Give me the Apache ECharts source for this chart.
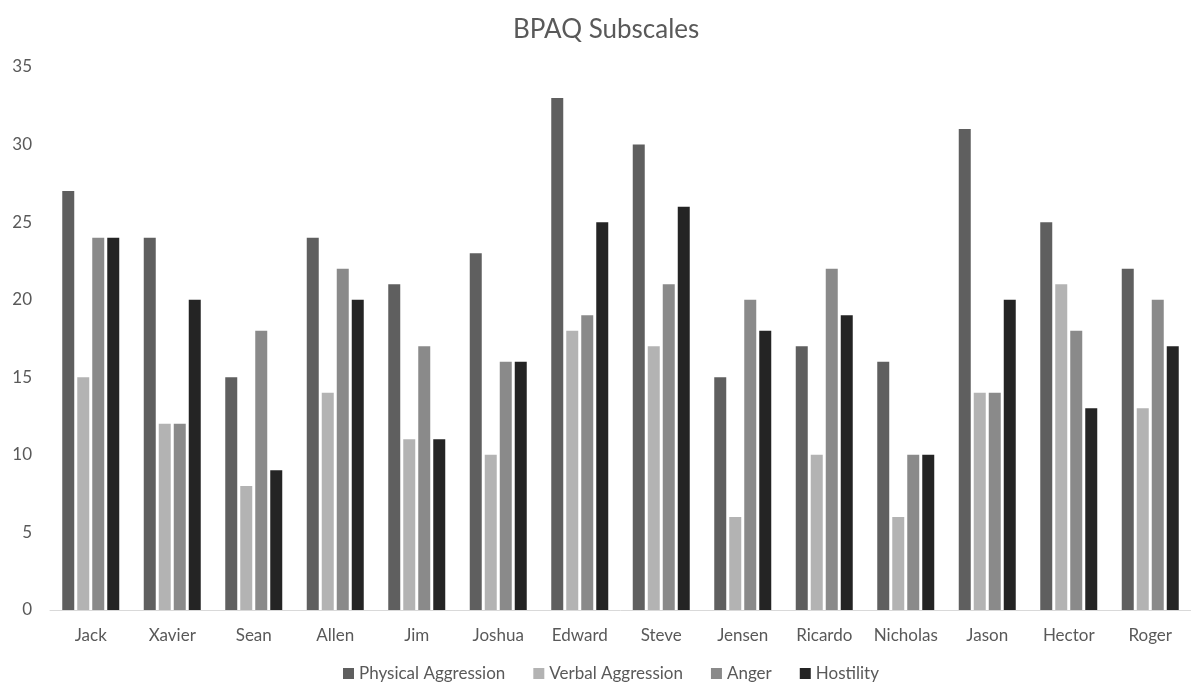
<!DOCTYPE html>
<html><head><meta charset="utf-8">
<script src="https://cdn.jsdelivr.net/npm/echarts@6/dist/echarts.min.js"></script>
<style>html,body{margin:0;padding:0;background:#fff}#c{width:1191px;height:684px}</style>
</head><body><div id="c"></div>
<script>
const categories = ['Jack','Xavier','Sean','Allen','Jim','Joshua','Edward','Steve','Jensen','Ricardo','Nicholas','Jason','Hector','Roger'];
const physical = [27,24,15,24,21,23,33,30,15,17,16,31,25,22];
const verbal   = [15,12,8,14,11,10,18,17,6,10,6,14,21,13];
const anger    = [24,12,18,22,17,16,19,21,20,22,10,14,18,20];
const hostility= [24,20,9,20,11,16,25,26,18,19,10,20,13,17];
const seriesNames = ['Physical Aggression','Verbal Aggression','Anger','Hostility'];
const colors = ['#5f5f5f','#b3b3b3','#8a8a8a','#242424'];
const font = 'Lato, "Open Sans", sans-serif';
const chart = echarts.init(document.getElementById('c'));
const mk = (name, data, i) => ({name, type:'bar', data, barWidth:12, barGap:'25%', itemStyle:{color:colors[i]}});
chart.setOption({
  animation:false,
  title:{text:'BPAQ Subscales', left:508, top:12, textStyle:{fontFamily:font, fontSize:26, fontWeight:'normal', color:'#595959'}},
  legend:{top:660, left:338, itemWidth:11, itemHeight:11, itemGap:28, icon:'rect', textStyle:{fontFamily:font, fontSize:17, color:'#595959'}},
  grid:{left:50, right:0, top:67, bottom:74},
  xAxis:{type:'category', data:categories, axisLine:{lineStyle:{color:'#d9d9d9'}}, axisTick:{show:false}, axisLabel:{interval:0, fontFamily:font, fontSize:17, color:'#595959', margin:17}},
  yAxis:{type:'value', min:0, max:35, interval:5, splitLine:{show:false}, axisLine:{show:false}, axisLabel:{fontFamily:font, fontSize:17, color:'#595959', margin:18}},
  series:[mk(seriesNames[0],physical,0), mk(seriesNames[1],verbal,1), mk(seriesNames[2],anger,2), mk(seriesNames[3],hostility,3)]
});
</script></body></html>
